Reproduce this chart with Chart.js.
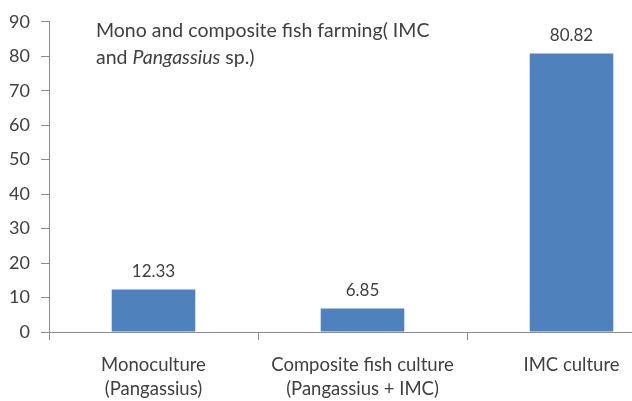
<!DOCTYPE html>
<html><head><meta charset="utf-8">
<script src="https://cdn.jsdelivr.net/npm/chart.js@4/dist/chart.umd.min.js"></script>
<style>
html,body{margin:0;padding:0;background:#fff;overflow:hidden;}
#wrap{width:690px;height:401px;position:relative;}
</style></head>
<body>
<div id="wrap"><canvas id="c"></canvas></div>
<script>
const categories = [["Monoculture","(Pangassius)"],["Composite fish culture","(Pangassius + IMC)"],["IMC culture"]];
const values = [12.33, 6.85, 80.82];
const valueLabels = ["12.33", "6.85", "80.82"];
const yTicks = [0,10,20,30,40,50,60,70,80,90];
const titleLine1 = [{t:"Mono and composite fish farming( IMC", i:false}];
const titleLine2 = [{t:"and ", i:false},{t:"Pangassius", i:true},{t:" sp.)", i:false}];

const FONT = "Lato, 'Open Sans', sans-serif";
const TXT = "#404040";

const labelsPlugin = {
  id: 'vals',
  afterDatasetsDraw(chart){
    const ctx = chart.ctx;
    const meta = chart.getDatasetMeta(0);
    ctx.save();
    ctx.font = "17px " + FONT;
    ctx.fillStyle = TXT;
    ctx.textAlign = "center";
    ctx.textBaseline = "middle";
    meta.data.forEach((el,i)=>{
      ctx.fillText(valueLabels[i], el.x, el.y - 18);
    });
    // title
    const size = 19.5;
    const drawLine = (parts, x, y)=>{
      parts.forEach(p=>{
        ctx.font = (p.i ? "italic " : "") + size + "px " + FONT;
        ctx.textAlign = "left";
        ctx.textBaseline = "middle";
        ctx.fillText(p.t, x, y);
        x += ctx.measureText(p.t).width;
      });
    };
    drawLine(titleLine1, 96, 31);
    drawLine(titleLine2, 96, 58);
    ctx.restore();
  }
};

new Chart(document.getElementById('c'), {
  type: 'bar',
  data: {
    labels: categories,
    datasets: [{
      data: values,
      backgroundColor: '#4F81BD',
      borderWidth: 0,
      barPercentage: 0.8,
      categoryPercentage: 0.5
    }]
  },
  options: {
    responsive: true,
    maintainAspectRatio: false,
    animation: false,
    events: [],
    layout: { padding: { top: 16, left: 0, right: 14, bottom: 0 } },
    plugins: { legend: { display: false }, tooltip: { enabled: false }, title: { display: false } },
    scales: {
      y: {
        min: 0, max: 90,
        afterBuildTicks(s){ s.ticks = yTicks.map(v=>({value:v})); },
        afterFit(s){ s.width = 49; },
        border: { color: '#8c8c8c', width: 1 },
        grid: { drawOnChartArea: false, tickLength: 8, color: '#8c8c8c' },
        ticks: { padding: 11, color: TXT, font: { family: FONT, size: 18 } }
      },
      x: {
        afterFit(s){ s.height = 69; },
        border: { color: '#8c8c8c', width: 1 },
        grid: { drawOnChartArea: false, tickLength: 8, color: '#8c8c8c', offset: true },
        ticks: { padding: 13, color: TXT, maxRotation: 0, autoSkip: false, font: { family: FONT, size: 18.5, lineHeight: 1.3 } }
      }
    }
  },
  plugins: [labelsPlugin]
});
</script>
</body></html>
